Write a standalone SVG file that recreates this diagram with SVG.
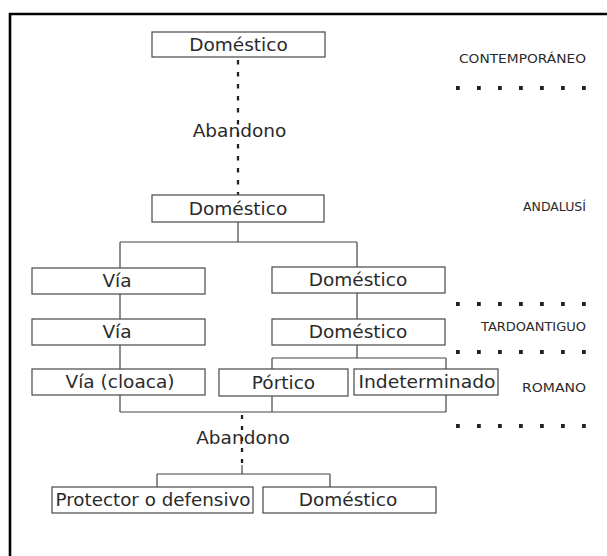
<svg xmlns="http://www.w3.org/2000/svg" width="607" height="556" viewBox="0 0 607 556">
<style>
.box{fill:#fff;stroke:#555;stroke-width:1.3}
.t{font-family:"DejaVu Sans",sans-serif;font-size:18.5px;fill:#2a2a2a;text-anchor:middle}
.s{font-family:"DejaVu Sans",sans-serif;font-size:12.3px;fill:#2a2a2a;text-anchor:end}
.ln{stroke:#444;stroke-width:1.2;fill:none}
.dash{stroke:#222;stroke-width:2.3;stroke-dasharray:4.5 7.5;fill:none}
.dash2{stroke:#222;stroke-width:2.3;stroke-dasharray:4 7;fill:none}
.dots{stroke:#222;stroke-width:3.8;stroke-dasharray:3.8 17.2;fill:none}
</style>
<rect width="607" height="556" fill="#fff"/>
<path d="M10,556 V14 H607" fill="none" stroke="#000" stroke-width="2.6"/>
<g id="connectors">
<line class="dash" x1="238" y1="60" x2="238" y2="195"/>
<path class="ln" d="M238,222 V242 M120,242 H357 M120,242 V268 M357,242 V267"/>
<path class="ln" d="M120,294 V319 M120,345 V369"/>
<path class="ln" d="M357,293 V319 M357,345 V358 M272,358 H446 M272,358 V369 M446,358 V369"/>
<path class="ln" d="M120,395 V412 M272,396 V412 M446,395 V412 M120,412 H446"/>
<line class="dash2" x1="242" y1="415" x2="242" y2="463"/>
<path class="ln" d="M242,465 V474 M157,474 H330 M157,474 V487 M330,474 V487"/>
</g>
<g id="periods">
<line class="dots" x1="456" y1="88" x2="590" y2="88"/>
<line class="dots" x1="456" y1="304" x2="590" y2="304"/>
<line class="dots" x1="456" y1="352" x2="590" y2="352"/>
<line class="dots" x1="456" y1="426" x2="590" y2="426"/>
<text class="s" x="586" y="63" textLength="127" lengthAdjust="spacingAndGlyphs">CONTEMPORÁNEO</text>
<text class="s" x="586" y="211" textLength="63" lengthAdjust="spacingAndGlyphs">ANDALUSÍ</text>
<text class="s" x="586" y="331" textLength="105" lengthAdjust="spacingAndGlyphs">TARDOANTIGUO</text>
<text class="s" x="586" y="392" textLength="64" lengthAdjust="spacingAndGlyphs">ROMANO</text>
</g>
<g id="n1"><rect class="box" x="152" y="32" width="173" height="25"/><text class="t" x="238.5" y="51">Doméstico</text></g>
<g id="a1"><text class="t" x="239.5" y="137">Abandono</text></g>
<g id="n2"><rect class="box" x="152" y="195" width="172" height="27"/><text class="t" x="238" y="215">Doméstico</text></g>
<g id="n3"><rect class="box" x="32" y="268" width="173" height="26"/><text class="t" x="117" y="287">Vía</text></g>
<g id="n4"><rect class="box" x="272" y="267" width="173" height="26"/><text class="t" x="358" y="286">Doméstico</text></g>
<g id="n5"><rect class="box" x="32" y="319" width="173" height="26"/><text class="t" x="117" y="338">Vía</text></g>
<g id="n6"><rect class="box" x="272" y="319" width="173" height="26"/><text class="t" x="358" y="338">Doméstico</text></g>
<g id="n7"><rect class="box" x="32" y="369" width="173" height="26"/><text class="t" x="120" y="388">Vía (cloaca)</text></g>
<g id="n8"><rect class="box" x="219" y="369" width="129" height="27"/><text class="t" x="283.5" y="389">Pórtico</text></g>
<g id="n9"><rect class="box" x="354" y="369" width="144" height="26"/><text class="t" x="427" y="388" textLength="137" lengthAdjust="spacingAndGlyphs">Indeterminado</text></g>
<g id="a2"><text class="t" x="243" y="444">Abandono</text></g>
<g id="n10"><rect class="box" x="52" y="487" width="201" height="26"/><text class="t" x="153" y="506" textLength="195" lengthAdjust="spacingAndGlyphs">Protector o defensivo</text></g>
<g id="n11"><rect class="box" x="263" y="487" width="173" height="26"/><text class="t" x="348" y="506">Doméstico</text></g>
</svg>
